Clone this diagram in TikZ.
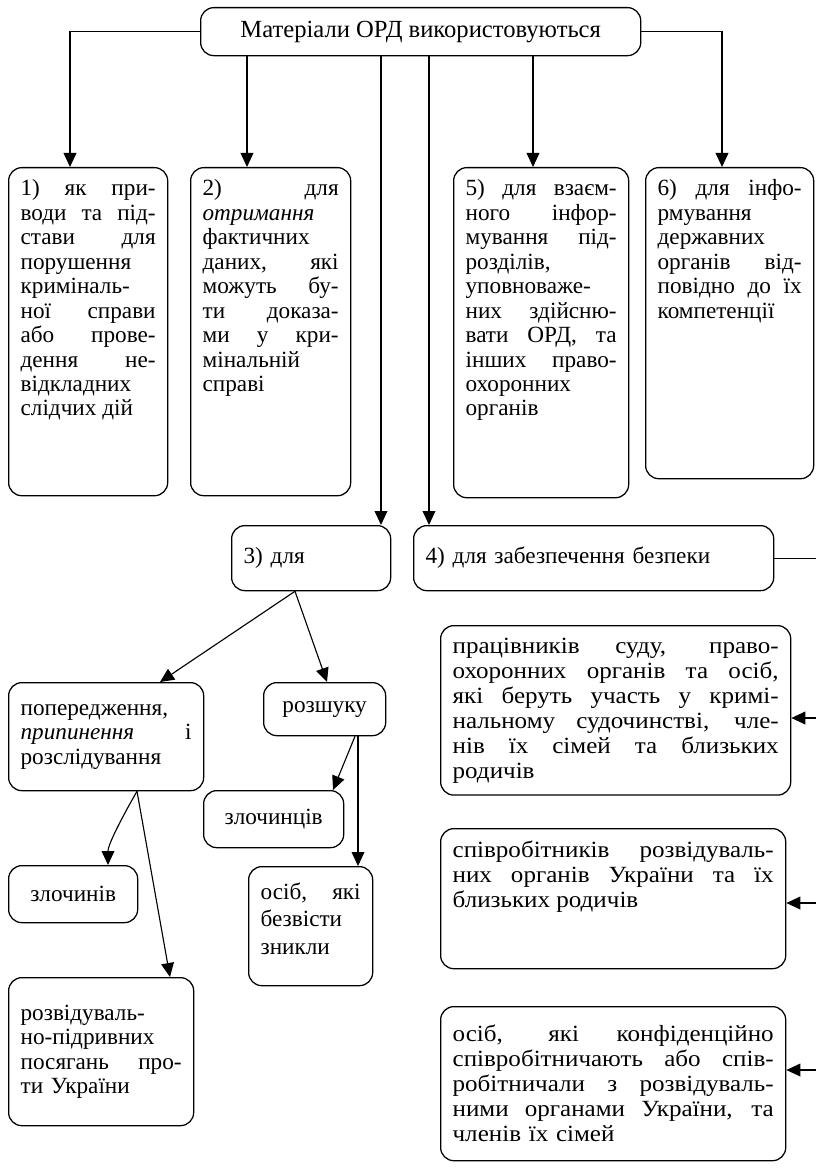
\documentclass[tikz,border=0pt]{standalone}
\usepackage{fontspec}
\setmainfont{Liberation Serif}
\newfontfamily\widefont{Liberation Serif}[FakeStretch=1.08]
\usepackage{tikz}
\usetikzlibrary{arrows.meta,positioning,calc}
\newcommand{\jl}[1]{\makebox[\hsize][s]{\spaceskip=0.27em plus 1fil minus 0.05em\relax#1}}
\newcommand{\topbox}[3]{\parbox[c][#1][t]{#2}{#3}}

\begin{document}
\begin{tikzpicture}[
    x=0.025cm, y=-0.025cm,
    font=\fontsize{16.5}{17.4}\selectfont,
    box/.style={draw,line width=0.9pt,rounded corners=0.33cm,anchor=north west,inner xsep=0.3cm,inner ysep=0.3cm},
    wide/.style={font=\widefont\fontsize{16.5}{17.8}\selectfont},
    arr/.style={-{Triangle[length=0.35cm,width=0.32cm]},line width=0.8pt},
    link/.style={line width=0.8pt}
  ]
    \useasboundingbox (0,0) rectangle (815,1169);
    \node[box,minimum width=11cm,minimum height=1.2cm,font=\fontsize{17.5}{20}\selectfont] (top) at (200,7) {Матеріали ОРД використовуються};
    % first row
    \node[box] (b1) at (8,167) {\topbox{7.6cm}{3.375cm}{\jl{1) як при-}\\ \jl{води та під-}\\ \jl{стави для}\\ порушення\\ криміналь-\\ \jl{ної справи}\\ \jl{або прове-}\\ \jl{дення не-}\\ відкладних\\ слідчих дій}};
    \node[box] (b2) at (190,167) {\topbox{7.6cm}{3.4cm}{\jl{2) для}\\ \textit{отримання}\\ фактичних\\ \jl{даних, які}\\ \jl{можуть бу-}\\ \jl{ти доказа-}\\ \jl{ми у кри-}\\ мінальній\\ справі}};
    \node[box] (b5) at (453,167) {\topbox{7.65cm}{3.775cm}{\jl{5) для взаєм-}\\ \jl{ного інфор-}\\ \jl{мування під-}\\ розділів,\\ уповноваже-\\ \jl{них здійсню-}\\ \jl{вати ОРД, та}\\ \jl{інших право-}\\ охоронних\\ органів}};
    \node[box] (b6) at (645,167) {\topbox{7.175cm}{3.6cm}{\jl{6) для інфо-}\\ рмування\\ державних\\ \jl{органів від-}\\ \jl{повідно до їх}\\ компетенції}};
    % second row
    \node[box,text width=3.375cm,minimum height=1.625cm,align=left] (b3) at (231,525) {3) для};
    \node[box,text width=8.4cm,minimum height=1.625cm,align=left] (b4) at (413,525) {4) для забезпечення безпеки};
    % left branch
    \node[box,text width=4.275cm,minimum height=2.7cm,align=left] (pop) at (8,682) {попередження,\\ \jl{\textit{припинення} і}\\ розслідування};
    \node[box,minimum width=3.05cm,minimum height=1.325cm] (rozsh) at (263,682) {розшуку};
    \node[box,minimum width=3.5cm,minimum height=1.425cm] (zlyt) at (203,790) {злочинців};
    \node[box] (osib) at (248,866) {\topbox{2.375cm}{2.5cm}{\vspace*{3pt}\jl{осіб, які}\\[2pt] безвісти\\[2pt] зникли}};
    \node[box,minimum width=3.225cm,minimum height=1.425cm] (zlyn) at (8,865) {злочинів};
    \node[box,text width=4.025cm,minimum height=3.7cm,align=left] (rozvid) at (8,977) {розвідуваль-\\ но-підривних\\ \jl{посягань про-}\\ ти України};
    % right branch
    \node[box,wide,text width=8.15cm,minimum height=4.175cm,align=left] (r1) at (440,625) {\jl{працівників суду, право-}\\ \jl{охоронних органів та осіб,}\\ \jl{які беруть участь у кримі-}\\ \jl{нальному судочинстві, чле-}\\ \jl{нів їх сімей та близьких}\\ родичів};
    \node[box,wide] (r2) at (440,828) {\topbox{2.9cm}{8.025cm}{\jl{співробітників розвідуваль-}\\ \jl{них органів України та їх}\\ близьких родичів}};
    \node[box,wide,text width=8.025cm,minimum height=3.85cm,align=left] (r3) at (440,1006) {\jl{осіб, які конфіденційно}\\ \jl{співробітничають або спів-}\\ \jl{робітничали з розвідуваль-}\\ \jl{ними органами України, та}\\ членів їх сімей};

    \draw[arr] (top.west) -| (70,0 |- b1.north);
    \draw[arr] (top.east) -| (722,0 |- b6.north);
    \draw[arr] (247,0 |- top.south) -- (247,0 |- b2.north);
    \draw[arr] (381,0 |- top.south) -- (381,0 |- b3.north);
    \draw[arr] (429,0 |- top.south) -- (429,0 |- b4.north);
    \draw[arr] (533,0 |- top.south) -- (533,0 |- b5.north);

    \coordinate (rail) at (818,557);
    \draw[link] (b4.east) -- (rail |- b4.east) -- (rail |- 0,1070);
    \draw[arr] (rail |- 0,718) -- (r1.east |- 0,718);
    \draw[arr] (rail |- 0,903) -- (r2.east |- 0,903);
    \draw[arr] (rail |- 0,1070) -- (r3.east |- 0,1070);

    \draw[arr] (295,0 |- b3.south) -- (160,0 |- pop.north);
    \draw[arr] (295,0 |- b3.south) -- (327,0 |- rozsh.north);
    \draw[arr] (355,0 |- rozsh.south) -- (333,0 |- zlyt.north);
    \draw[arr] (358,0 |- rozsh.south) -- (358,0 |- osib.north);
    \draw[arr] (137,0 |- pop.south) to[out=-120,in=90,looseness=0.7] (108,0 |- zlyn.north);
    \draw[arr] (137,0 |- pop.south) -- (170,0 |- rozvid.north);
\end{tikzpicture}
\end{document}
